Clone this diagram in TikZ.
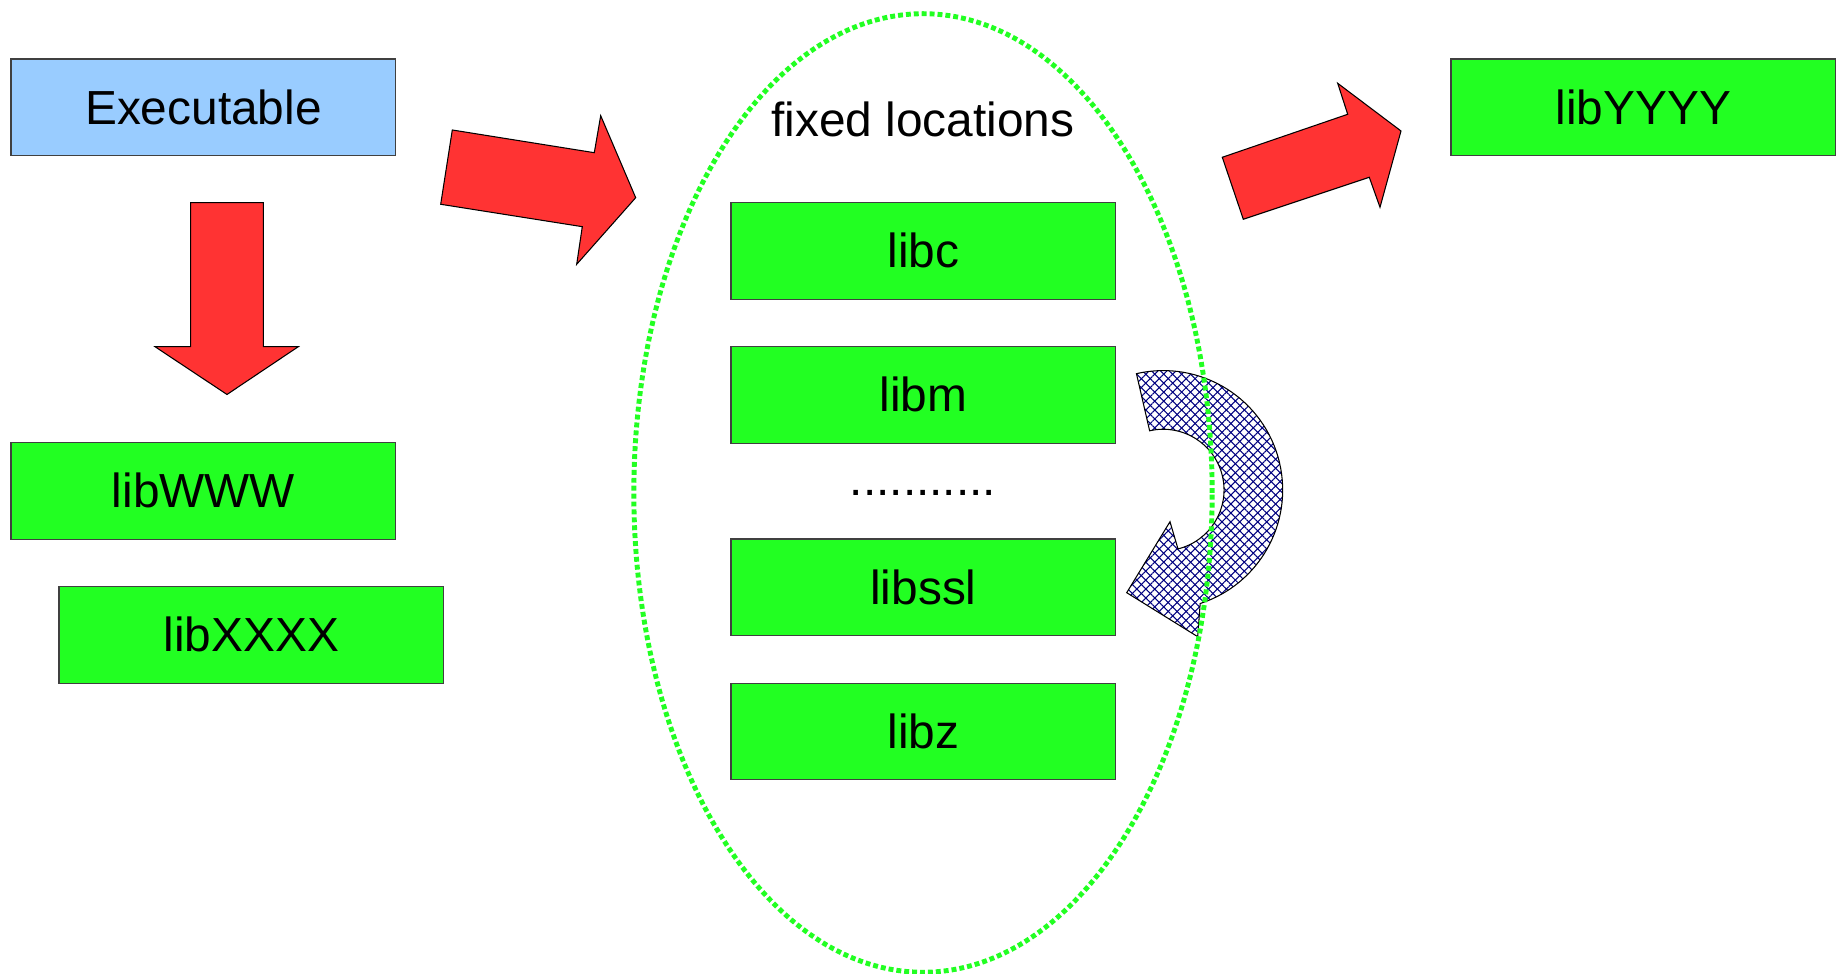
\documentclass[tikz,border=0pt]{standalone}
\usepackage{fontspec}
\setmainfont{Liberation Sans}
\usetikzlibrary{calc,patterns.meta}

\definecolor{libgreen}{HTML}{22FF22}
\definecolor{exeblue}{HTML}{99CCFF}
\definecolor{arrowred}{HTML}{FF3333}
\definecolor{hatchnavy}{HTML}{000080}
\definecolor{edgegray}{HTML}{404040}

\begin{document}
\begin{tikzpicture}[x=0.01cm,y=0.01cm,
  label/.style={font=\fontsize{13.6}{16}\selectfont},
  box/.style={label, draw=edgegray, line width=0.3pt, minimum width=3.847cm,
    minimum height=0.963cm, inner sep=0pt, outer sep=0pt, anchor=north west},
  exebox/.style={box, fill=exeblue},
  libbox/.style={box, fill=libgreen},
  blockarrow/.style={fill=arrowred, draw=black, line width=0.3pt, line join=miter},
  turnarrow/.style={draw=black, line width=0.3pt,
    preaction={fill=white},
    preaction={pattern={Lines[angle=45,distance=1.8pt,line width=0.3pt]}, pattern color=hatchnavy},
    preaction={pattern={Lines[angle=-45,distance=1.8pt,line width=0.3pt]}, pattern color=hatchnavy}},
  ring/.style={draw=libgreen, line width=1.4pt, dash pattern=on 1.4pt off 0.85pt}]

\useasboundingbox (0,0) rectangle (1841,-974);

% left column
\node[exebox] (exe) at (11,-59) {Executable};
\node[libbox] (www) at (11,-442.7) {libWWW};
\node[libbox] (xxxx) at (59,-586.7) {libXXXX};

% libraries at fixed locations
\node[label, anchor=base] (fixed) at (923,-137) {fixed locations};
\node[libbox] (libc) at (731,-202.7) {libc};
\node[libbox] (libm) at (731,-346.7) {libm};
\node[label, anchor=base] (dots) at (923,-496) {...........};
\node[libbox] (libssl) at (731,-539) {libssl};
\node[libbox] (libz) at (731,-683.3) {libz};

% right column
\node[libbox] (yyyy) at (1451,-59) {libYYYY};

% block arrows
\draw[blockarrow] (190.7,-202.7) -- (263.3,-202.7) -- (263.3,-346.7) -- (298.3,-346.7)
  -- (227,-394.5) -- (155,-346.7) -- (190.7,-346.7) -- cycle;
\draw[blockarrow] (452.3,-130) -- (594.3,-152.7) -- (600.7,-115.7) -- (635.7,-197.7)
  -- (576.7,-264.3) -- (582.3,-226.7) -- (440.7,-204.3) -- cycle;
\draw[blockarrow] (1243.3,-219.3) -- (1222.3,-157.3) -- (1347.7,-114.3) -- (1337.7,-83.3)
  -- (1401,-131) -- (1380,-207.3) -- (1369.3,-177.3) -- cycle;

% curved hatched arrow from libm back to libssl
\coordinate (cc) at (1163.3,-490);
\draw[turnarrow] ($(cc)+(103:1.193cm)$) arc[start angle=103, end angle=-72, radius=1.193cm]
  -- (1197.7,-636.7) -- (1126.7,-592.7) -- (1170,-521.7)
  -- ($(cc)+(-76:0.607cm)$) arc[start angle=-76, end angle=103, radius=0.607cm] -- cycle;

% dotted boundary of the fixed-location region
\draw[ring] (923,-493) ellipse [x radius=2.89cm, y radius=4.79cm];

\end{tikzpicture}
\end{document}
